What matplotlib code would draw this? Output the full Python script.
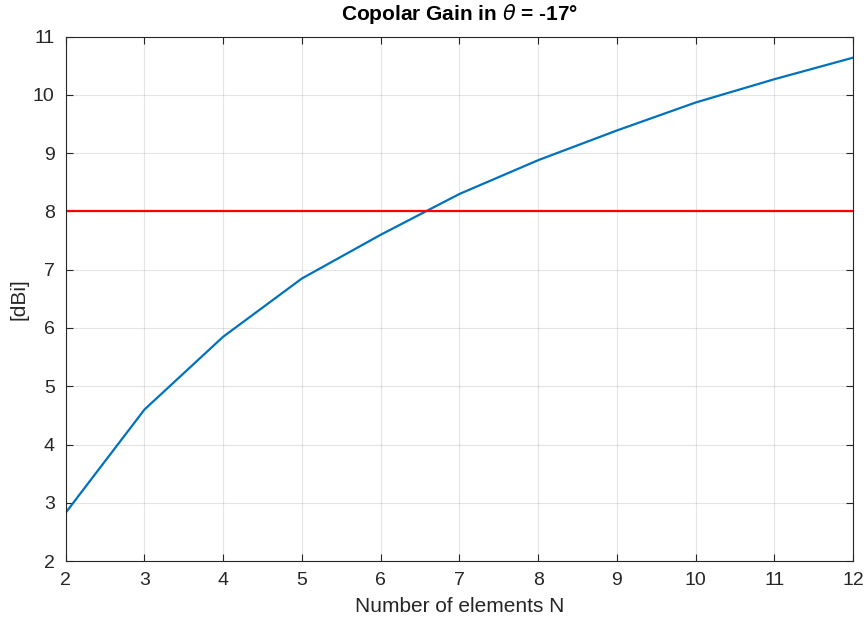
import numpy as np
import matplotlib.pyplot as plt

plt.rcParams['font.family'] = ['Liberation Sans', 'DejaVu Sans']
plt.rcParams['mathtext.fontset'] = 'dejavusans'

# copolar gain vs number of array elements
n_elements = [2, 3, 4, 5, 6, 7, 8, 9, 10, 11, 12]
gain_dbi = [2.83, 4.60, 5.85, 6.85, 7.60, 8.30, 8.88, 9.39, 9.87, 10.27, 10.64]
threshold_dbi = 8

x_ticks = list(range(2, 13))
y_ticks = list(range(2, 12))


def main():
    fig = plt.figure(figsize=(8.66, 6.18), dpi=100)
    ax = fig.add_axes([0.0759, 0.0922, 0.9091, 0.8484])

    ax.plot(n_elements, gain_dbi, color=(0, 0.447, 0.741), lw=1.6)
    ax.axhline(threshold_dbi, color=(1, 0, 0), lw=1.6)

    ax.set_xlim(2, 12)
    ax.set_ylim(2, 11)
    ax.set_xticks(x_ticks)
    ax.set_yticks(y_ticks)

    ax.grid(True, color=(0.15, 0.15, 0.15), alpha=0.12, lw=0.8)
    ax.set_axisbelow(True)
    for s in ax.spines.values():
        s.set_color((0.15, 0.15, 0.15))
        s.set_linewidth(0.8)
    ax.tick_params(direction='in', top=True, right=True, length=5,
                   color=(0.15, 0.15, 0.15), labelcolor=(0.15, 0.15, 0.15),
                   labelsize=14, pad=8)

    ax.set_xlabel('Number of elements N', fontsize=15, color=(0.15, 0.15, 0.15),
                  labelpad=6)
    ax.set_ylabel('[dBi]', fontsize=15, color=(0.15, 0.15, 0.15), labelpad=3)
    ax.set_title(r'Copolar Gain in $\theta$ = -17°', fontsize=15,
                 fontweight='bold', pad=12)

    fig.savefig('out.png', dpi=100)


if __name__ == "__main__":
    main()
